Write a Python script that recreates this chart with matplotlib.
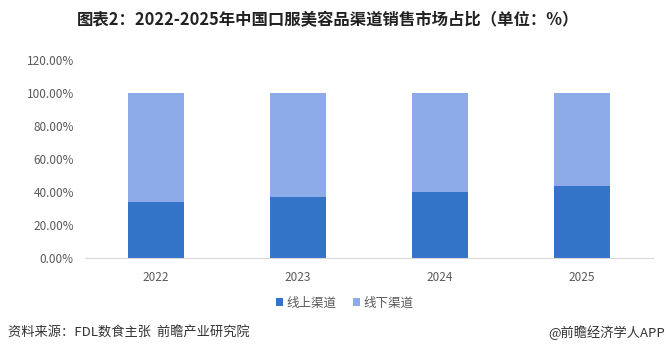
import matplotlib
matplotlib.use("Agg")
import matplotlib.pyplot as plt
from matplotlib.ticker import FuncFormatter

plt.rcParams['font.family'] = ['Noto Sans CJK SC', 'DejaVu Sans']

years = ["2022", "2023", "2024", "2025"]
online = [34.0, 37.0, 40.0, 43.6]
offline = [100 - v for v in online]
series_names = ["线上渠道", "线下渠道"]
title = "图表2：2022-2025年中国口服美容品渠道销售市场占比（单位：%）"
source = "资料来源：FDL数食主张  前瞻产业研究院"
credit = "@前瞻经济学人APP"

fig = plt.figure(figsize=(6.66, 3.55), dpi=100)
ax = fig.add_axes([0.1276, 0.2732, 0.853, 0.5577])

c_on = "#3373c8"
c_off = "#8eabe9"
x = range(len(years))
ax.bar(x, online, width=0.4, color=c_on, label=series_names[0])
ax.bar(x, offline, width=0.4, bottom=online, color=c_off, label=series_names[1])

ax.set_xlim(-0.5, len(years) - 0.5)
ax.set_ylim(0, 120)
ax.set_yticks(range(0, 121, 20))
ax.yaxis.set_major_formatter(FuncFormatter(lambda v, p: f"{v:.2f}%"))
ax.set_xticks(list(x))
ax.set_xticklabels(years)
for s in ["top", "right", "left"]:
    ax.spines[s].set_visible(False)
ax.spines["bottom"].set_color("#d9d9d9")
ax.tick_params(axis="both", length=0, colors="#595959", labelsize=8.5)
ax.tick_params(axis="x", pad=9)
ax.tick_params(axis="y", pad=8)

fig.legend(loc="center", bbox_to_anchor=(0.518, 0.147), ncol=2, frameon=False,
           fontsize=9, handlelength=0.55, handleheight=0.55, handletextpad=0.3,
           columnspacing=1.3, labelcolor="#595959")

fig.text(0.493, 0.943, title, ha="center", va="center", fontsize=11.8,
         fontweight="bold", color="#222222")
fig.text(0.012, 0.062, source, ha="left", va="center", fontsize=9.5, color="#333333")
fig.text(0.998, 0.062, credit, ha="right", va="center", fontsize=9.5, color="#333333")

fig.savefig("out.png", dpi=100)
